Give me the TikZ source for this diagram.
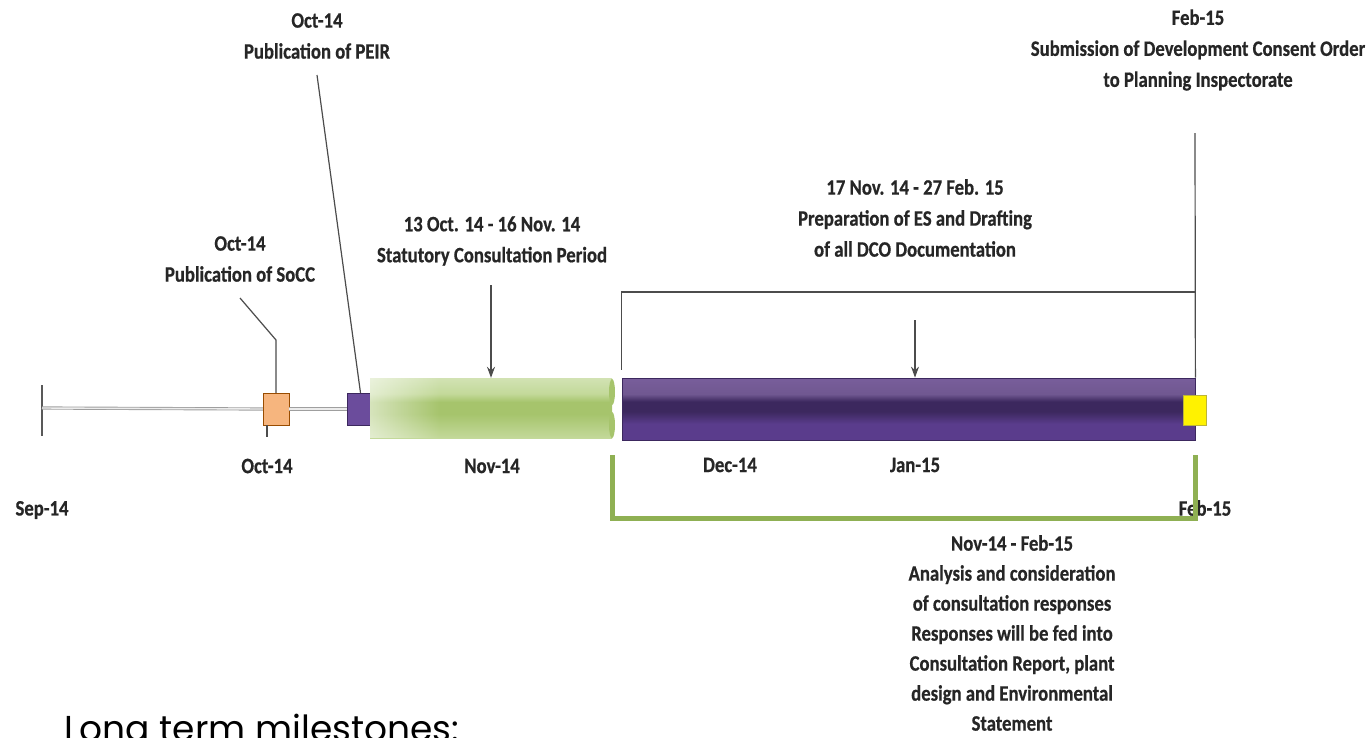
\documentclass[tikz,border=0pt]{standalone}
\usepackage{fontspec}
\newfontfamily\lblfont{Carlito}[FakeStretch=0.85,FakeBold=0.6]
\newfontfamily\titlefont{Poppins}
\usetikzlibrary{arrows.meta,fadings}
\tikzfading[name=barfade,left color=transparent!0,right color=transparent!100]
\definecolor{soccorange}{HTML}{F6B57E}
\definecolor{peirpurple}{HTML}{6B4C9C}
\definecolor{darkpurple}{HTML}{3C285E}
\definecolor{midpurple}{HTML}{5A3C8C}
\definecolor{toppurple}{HTML}{8467AA}
\definecolor{lightgreen}{HTML}{E4EDD2}
\definecolor{midgreen}{HTML}{C3D99A}
\definecolor{bandgreen}{HTML}{A6C46C}
\definecolor{bracketgreen}{HTML}{8FB053}
\definecolor{labeltext}{HTML}{262626}
\pgfdeclareverticalshading{purplebar}{100bp}{color(0bp)=(darkpurple); color(6bp)=(midpurple); color(38bp)=(midpurple); color(48bp)=(darkpurple); color(56bp)=(darkpurple); color(62bp)=(toppurple!85!black); color(94bp)=(toppurple); color(100bp)=(darkpurple)}
\pgfdeclareverticalshading{greenbar}{100bp}{color(0bp)=(lightgreen); color(25bp)=(midgreen); color(45bp)=(bandgreen); color(55bp)=(bandgreen); color(62bp)=(midgreen); color(100bp)=(lightgreen!60!white)}
\begin{document}
\begin{tikzpicture}[x=1pt,y=-1pt,
  date label/.style={font=\lblfont\bfseries\fontsize{22}{31}\selectfont,text=labeltext,align=center,inner sep=0pt},
  important line/.style={line width=1.2pt,draw=black!70},
  down arrow/.style={important line,-{Stealth[length=11pt,width=8pt]}}]
  \clip (0,0) rectangle (1368,737); %page size
  %timeline before the bars
  \coordinate (septop) at (42,385);
  \coordinate (sepbot) at (42,436);
  \draw[line width=1.2pt,draw=black!65] (septop) -- (sepbot); %first tick
  \node[draw=orange!60!black,fill=soccorange,minimum width=26,minimum height=32,inner sep=0pt] (socc) at (276,409) {};
  \node[draw=darkpurple,fill=peirpurple,minimum width=23,minimum height=32,inner sep=0pt] (peir) at (358.5,409) {};
  \draw[draw=gray!75,double=gray!15,double distance=1.4pt,line width=0.9pt] (42,408) -- (socc.west); %timeline
  \draw[draw=gray!75,double=gray!15,double distance=1.4pt,line width=0.9pt] (socc.east) -- (peir.west);
  \draw[important line] (267,425) -- (267,437); %small tick
  %the two bars
  \node[shading=greenbar,minimum width=242,minimum height=60,inner sep=0pt] (consultbar) at (491,408) {};
  \fill[white,opacity=0.55,path fading=barfade] (consultbar.north west) rectangle ([xshift=70pt]consultbar.south west); %washed out start
  \fill[bandgreen] (612,392) ellipse (3 and 13); %divider
  \fill[bandgreen] (612,425) ellipse (3 and 13);
  \node[shading=purplebar,draw=darkpurple,line width=0.8pt,minimum width=573,minimum height=62,inner sep=0pt] (prepbar) at (908.5,409) {};
  \node[draw=yellow!70!black,fill=yellow,minimum width=23,minimum height=30,inner sep=0pt] (submit) at (1195,410) {};
  %labels above
  \node[date label] (peirlbl) at (317,36) {Oct-14\\Publication of PEIR};
  \node[date label] (socclbl) at (240,259) {Oct-14\\Publication of SoCC};
  \node[date label] (consultlbl) at (492,241) {13 Oct. 14 - 16 Nov. 14\\Statutory Consultation Period};
  \node[date label] (preplbl) at (915,218) {17 Nov. 14 - 27 Feb. 15\\Preparation of ES and Drafting\\of all DCO Documentation};
  \node[date label] (dcolbl) at (1198,50) {Feb-15\\Submission of Development Consent Order\\to Planning Inspectorate};
  %connectors
  \coordinate (soccstart) at (240,298);
  \coordinate (soccbend) at (276,340);
  \draw[important line] (soccstart) -- (soccbend) -- (socc.north);
  \coordinate (peirstart) at (317,75);
  \draw[important line] (peirstart) -- ([xshift=2pt]peir.north);
  \coordinate (consultstart) at (491,285);
  \draw[down arrow] (consultstart) -- (consultbar.north);
  \coordinate (prepstart) at (915,320);
  \draw[down arrow] (prepstart) -- ([xshift=6.5pt]prepbar.north);
  \coordinate (dcostart) at (1195,133);
  \coordinate (prepcorner) at (1195,292);
  \draw[important line] ([yshift=8pt]prepbar.north west) |- (prepcorner); %bracket over the purple bar
  \draw[important line] (dcostart) -- (prepbar.north east);
  %month labels
  \node[date label] (sep) at (42,510) {Sep-14};
  \node[date label] (oct) at (267,466) {Oct-14};
  \node[date label] (nov) at (492,466) {Nov-14};
  \node[date label] (dec) at (730,465) {Dec-14};
  \node[date label] (jan) at (915,465) {Jan-15};
  \node[date label] (feb) at (1205,508) {Feb-15};
  %green bracket under the bars
  \coordinate (analysisleft) at (612,455);
  \coordinate (analysisright) at (1195,455);
  \draw[bracketgreen,line width=5pt] (analysisleft) -- ++(0,63) -| (analysisright);
  \node[date label,font=\lblfont\bfseries\fontsize{22}{30}\selectfont] (analysislbl) at (1012,633) {Nov-14 - Feb-15\\Analysis and consideration\\of consultation responses\\Responses will be fed into\\Consultation Report, plant\\design and Environmental\\Statement};
  %title at the bottom
  \node[anchor=base west,inner sep=0pt,font=\titlefont\fontsize{36}{40}\selectfont,text=black] (title) at (64,741) {Long term milestones:};
\end{tikzpicture}
\end{document}
